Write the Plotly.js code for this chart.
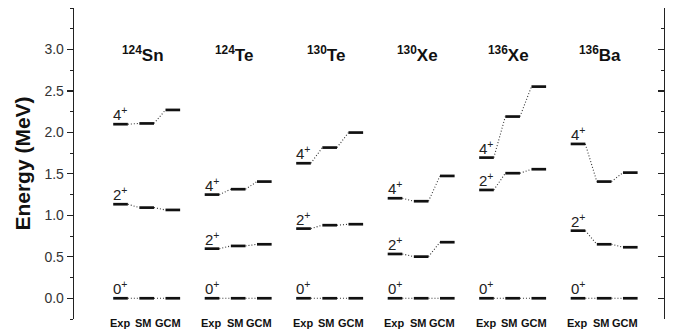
<!DOCTYPE html>
<html>
<head>
<meta charset="utf-8">
<script src="https://cdn.plot.ly/plotly-3.0.1.min.js"></script>
<style>
  html, body { margin: 0; padding: 0; background: #fff; }
  #chart { width: 687px; height: 331px; }
</style>
</head>
<body>
<div id="chart"></div>
<script>
// Nuclei shown, left to right
const massNumbers = [124, 124, 130, 130, 136, 136];
const elements = ['Sn', 'Te', 'Te', 'Xe', 'Xe', 'Ba'];
const methods = ['Exp', 'SM', 'GCM'];
const spins = ['0', '2', '4'];

// Level energies (MeV) per nucleus
const expZero = [0, 0, 0, 0, 0, 0];
const smZero = [0, 0, 0, 0, 0, 0];
const gcmZero = [0, 0, 0, 0, 0, 0];

const expTwo = [1.134, 0.598, 0.840, 0.534, 1.306, 0.815];
const smTwo = [1.093, 0.631, 0.881, 0.502, 1.508, 0.651];
const gcmTwo = [1.065, 0.651, 0.893, 0.676, 1.556, 0.615];

const expFour = [2.099, 1.250, 1.628, 1.206, 1.696, 1.861];
const smFour = [2.108, 1.315, 1.817, 1.170, 2.191, 1.407];
const gcmFour = [2.271, 1.407, 1.998, 1.475, 2.552, 1.515];

const yTicks = [0.0, 0.5, 1.0, 1.5, 2.0, 2.5, 3.0];

// Layout helpers: column position of each method inside a nucleus group
const groupStep = 3.5;
const halfBar = 0.28;
const colX = (g, m) => g * groupStep + (m - 1);

const levelSets = [
  [expZero, smZero, gcmZero],
  [expTwo, smTwo, gcmTwo],
  [expFour, smFour, gcmFour]
];

const barX = [], barY = [], linkX = [], linkY = [];
massNumbers.forEach((_, g) => {
  levelSets.forEach(set => {
    for (let m = 0; m < 3; m++) {
      const e = set[m][g];
      const x = colX(g, m);
      barX.push(x - halfBar, x + halfBar, null);
      barY.push(e, e, null);
      if (m < 2) {
        const eNext = set[m + 1][g];
        linkX.push(x + halfBar, colX(g, m + 1) - halfBar, null);
        linkY.push(e, eNext, null);
      }
    }
  });
});

const traces = [
  {
    x: linkX, y: linkY, type: 'scatter', mode: 'lines',
    line: { color: '#333', width: 1.1, dash: '1px,2px' },
    hoverinfo: 'skip', showlegend: false
  },
  {
    x: barX, y: barY, type: 'scatter', mode: 'lines',
    line: { color: '#111', width: 2.7 },
    hoverinfo: 'skip', showlegend: false
  },
  {
    // right-hand axis carrying inward ticks
    x: [0], y: [0], type: 'scatter', mode: 'markers', yaxis: 'y2',
    marker: { opacity: 0 }, hoverinfo: 'skip', showlegend: false
  }
];

const annotations = [];
massNumbers.forEach((a, g) => {
  // nucleus title
  annotations.push({
    x: colX(g, 1), y: 2.95, xref: 'x', yref: 'y',
    text: '<sup>' + a + '</sup>' + elements[g],
    showarrow: false, xanchor: 'center', yanchor: 'middle', xshift: -4,
    font: { family: 'Liberation Sans, Arial, sans-serif', size: 17, color: '#111', weight: 'bold' }
  });
  // spin labels above the experimental level
  levelSets.forEach((set, s) => {
    annotations.push({
      x: colX(g, 0) - halfBar, y: set[0][g], xref: 'x', yref: 'y',
      text: spins[s] + '<sup>+</sup>',
      showarrow: false, xanchor: 'left', yanchor: 'bottom', yshift: -1, xshift: -2,
      font: { family: 'Liberation Sans, Arial, sans-serif', size: 15, color: '#222' }
    });
  });
  // method labels under each column
  methods.forEach((mName, m) => {
    annotations.push({
      x: colX(g, m), y: 0, xref: 'x', yref: 'paper',
      text: mName, showarrow: false, xanchor: 'center', yanchor: 'top',
      yshift: 4, xshift: -1 - 2 * m,
      font: { family: 'Liberation Sans, Arial, sans-serif', size: 11, color: '#111', weight: 'bold' }
    });
  });
});

const axisCommon = {
  range: [-0.25, 3.5],
  showgrid: false, zeroline: false,
  showline: true, linecolor: '#222', linewidth: 1.3,
  tickvals: yTicks, ticklen: 6, tickwidth: 1.2, tickcolor: '#222',
  minor: { dtick: 0.25, ticks: 'outside', ticklen: 3, tickwidth: 1, tickcolor: '#222' }
};

const layout = {
  width: 687, height: 331,
  margin: { l: 74, r: 23, t: 8, b: 12 },
  paper_bgcolor: '#fff', plot_bgcolor: '#fff',
  showlegend: false,
  xaxis: {
    range: [-2.78, 19.79], visible: false, fixedrange: true
  },
  yaxis: Object.assign({}, axisCommon, {
    ticks: 'outside',
    ticktext: yTicks.map(v => v.toFixed(1)),
    tickfont: { family: 'Liberation Sans, Arial, sans-serif', size: 14, color: '#333' },
    title: {
      text: 'Energy (MeV)', standoff: 8,
      font: { family: 'Liberation Sans, Arial, sans-serif', size: 21, color: '#111', weight: 'bold' }
    }
  }),
  yaxis2: Object.assign({}, axisCommon, {
    overlaying: 'y', side: 'right', ticks: 'inside', showticklabels: false,
    minor: { dtick: 0.25, ticks: 'inside', ticklen: 3, tickwidth: 1, tickcolor: '#222' }
  }),
  annotations: annotations
};

Plotly.newPlot('chart', traces, layout, { staticPlot: true, displayModeBar: false });
</script>
</body>
</html>
